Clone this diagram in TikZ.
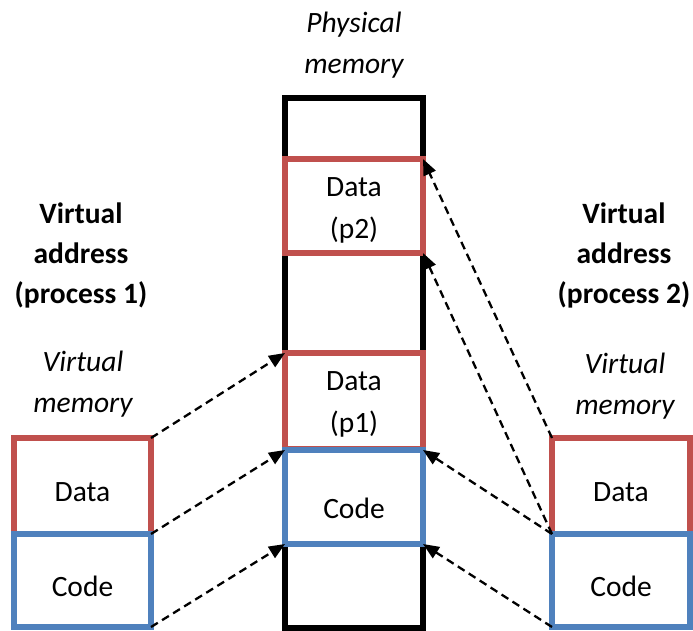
\documentclass[tikz,border=0pt]{standalone}
\usepackage{fontspec}
\setmainfont{Carlito}
\usetikzlibrary{arrows.meta}
\definecolor{cred}{HTML}{C0504D}
\definecolor{cblue}{HTML}{4F81BD}
\begin{document}
\begin{tikzpicture}[x=1pt,y=-1pt,
  box/.style={draw=#1, line width=6pt, inner sep=0pt, outer sep=0pt, fill=none},
  txt/.style={inner sep=0pt, align=center, font=\fontsize{29.5}{42}\selectfont},
  head/.style={inner sep=0pt, align=center, font=\fontsize{29.5}{40}\selectfont\bfseries},
  ital/.style={inner sep=0pt, align=center, font=\fontsize{29.5}{41}\selectfont\itshape},
  link/.style={dashed, dash pattern=on 8pt off 5pt, line width=2.3pt, -{Triangle[length=16pt,width=13pt]}}
]
\useasboundingbox (0,0) rectangle (693,630);
% physical memory column
\node[box=black, minimum width=138pt, minimum height=530pt] (phys) at (354,363) {};
\node[box=cred, minimum width=138pt, minimum height=94pt] (p2) at (354,206) {};
\node[box=cred, minimum width=138pt, minimum height=96pt] (p1) at (354,401) {};
\node[box=cblue, minimum width=138pt, minimum height=94pt] (pc) at (354,497) {};
% process 1
\node[box=cred, minimum width=137pt, minimum height=96pt] (ld) at (82.5,486) {};
\node[box=cblue, minimum width=137pt, minimum height=93pt] (lc) at (82.5,580.5) {};
% process 2
\node[box=cred, minimum width=138pt, minimum height=96pt] (rd) at (621,486) {};
\node[box=cblue, minimum width=138pt, minimum height=93pt] (rc) at (621,580.5) {};
% texts in boxes
\node[txt, yshift=-4pt] (tp2) at (p2.center) {Data\\(p2)};
\node[txt, yshift=-3pt] (tp1) at (p1.center) {Data\\(p1)};
\node[txt, yshift=-11pt] (tpc) at (pc.center) {Code};
\node[txt, yshift=-6pt] (tld) at (ld.center) {Data};
\node[txt, yshift=-6pt] (tlc) at (lc.center) {Code};
\node[txt, yshift=-6pt] (trd) at (rd.center) {Data};
\node[txt, yshift=-6pt] (trc) at (rc.center) {Code};
% titles
\node[ital] (tphys) at (354,45) {Physical\\memory};
\node[head] (tva1) at (81,255) {Virtual\\address\\(process 1)};
\node[ital] (tvm1) at (83,384) {Virtual\\memory};
\node[head] (tva2) at (624,255) {Virtual\\address\\(process 2)};
\node[ital] (tvm2) at (625,386) {Virtual\\memory};
% mappings process 1
\draw[link] (ld.north east) -- (p1.north west);
\draw[link] (lc.north east) -- (pc.north west);
\draw[link] (lc.south east) -- (pc.south west);
% mappings process 2
\draw[link] (rd.north west) -- (p2.north east);
\draw[link] (rc.north west) -- (p2.south east);
\draw[link] (rc.north west) -- (pc.north east);
\draw[link] (rc.south west) -- (pc.south east);
\end{tikzpicture}
\end{document}
